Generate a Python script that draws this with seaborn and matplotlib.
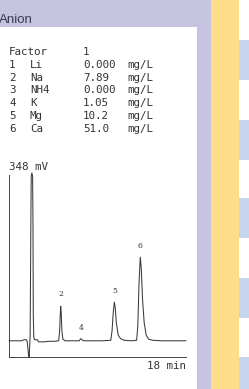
import matplotlib
matplotlib.use("Agg")
import matplotlib.pyplot as plt
from matplotlib.patches import Rectangle
import pandas as pd
import seaborn as sns

# ---- data ----
title = "Anion"
factor_label = "Factor"
factor_value = "1"
ion_numbers = ["1", "2", "3", "4", "5", "6"]
ion_names = ["Li", "Na", "NH4", "K", "Mg", "Ca"]
ion_conc = ["0.000", "7.89", "0.000", "1.05", "10.2", "51.0"]
unit = "mg/L"

y_max_mv = 348
x_max_min = 18

# chromatogram trace (min, mV)
trace_time = [0.0, 0.8, 1.3, 1.5, 1.75, 1.85, 1.98, 2.05, 2.15, 2.22, 2.26, 2.33,
              2.40, 2.44, 2.47, 2.52, 2.60, 2.90, 3.00, 3.60, 4.00, 4.60, 5.05,
              5.15, 5.22, 5.26, 5.31, 5.38, 5.48, 5.70, 6.50, 7.15, 7.25, 7.32,
              7.42, 7.60, 8.50, 9.50, 10.35, 10.48, 10.60, 10.71, 10.80, 10.92,
              11.10, 11.35, 11.70, 12.50, 12.98, 13.10, 13.22, 13.35, 13.45,
              13.58, 13.75, 13.95, 14.20, 14.60, 15.50, 18.0]
trace_mv = [31, 31, 31, 33, 33, 30, 5, 0, 40, 250, 345, 352,
            345, 250, 80, 38, 33, 33, 29, 29, 30, 30, 31,
            50, 85, 97, 85, 50, 34, 31, 31, 31, 34, 35,
            33, 31, 31, 31, 32, 50, 85, 105, 95, 65,
            42, 35, 32, 31, 32, 60, 140, 191, 170,
            110, 65, 42, 34, 32, 31, 31]

peak_ids = ["2", "4", "5", "6"]
peak_times = [5.26, 7.32, 10.71, 13.35]
peak_label_mv = [120, 55, 127, 213]

tick_times = [6, 12]

# ---- colours ----
lavender = "#c6c3e1"
yellow = "#fcdd8c"
blue = "#c6d6ee"
ink = "#333333"

sns.set_style("white")
plt.rcParams["font.family"] = ["DejaVu Sans Mono", "DejaVu Sans"]

W, H = 249, 389
fig = plt.figure(figsize=(W / 100, H / 100), dpi=100)

# background in pixel coordinates
bg = fig.add_axes([0, 0, 1, 1])
bg.set_xlim(0, W)
bg.set_ylim(H, 0)
bg.axis("off")
bg.add_patch(Rectangle((0, 0), 211, H, color=lavender, lw=0))
bg.add_patch(Rectangle((0, 27), 197, H - 27, color="white", lw=0))
bg.add_patch(Rectangle((211, 0), 28, H, color=yellow, lw=0))
bg.add_patch(Rectangle((239, 0), 10, H, color="white", lw=0))
for top in [40, 120, 198, 278, 357]:
    bg.add_patch(Rectangle((239, top), 10, 40, color=blue, lw=0))

bg.text(-1.5, 23.3, title, fontsize=9.5, family="Liberation Sans",
        color="#3b3950", ha="left", va="baseline")

# result table
fs = 7.8
bg.text(9, 55, factor_label, fontsize=fs, color=ink, va="baseline")
bg.text(83, 55, factor_value, fontsize=fs, color=ink, va="baseline")
for i, (num, name, conc) in enumerate(zip(ion_numbers, ion_names, ion_conc)):
    yb = 55 + 12.75 * (i + 1)
    bg.text(9, yb, num, fontsize=fs, color=ink, va="baseline")
    bg.text(30, yb, name, fontsize=fs, color=ink, va="baseline")
    bg.text(83, yb, conc, fontsize=fs, color=ink, va="baseline")
    bg.text(127, yb, unit, fontsize=fs, color=ink, va="baseline")

bg.text(9, 170, f"{y_max_mv} mV", fontsize=fs, color=ink, va="baseline")
bg.text(186, 369, f"{x_max_min} min", fontsize=fs, color=ink, ha="right", va="baseline")

# chromatogram
ax = fig.add_axes([9 / W, (H - 357) / H, 177 / W, 182 / H])
ax.patch.set_alpha(0)
df = pd.DataFrame({"time": trace_time, "mV": trace_mv})
sns.lineplot(data=df, x="time", y="mV", ax=ax, color="#3a3a3a", lw=0.75,
             sort=False, clip_on=False)
for pid, pt, pm in zip(peak_ids, peak_times, peak_label_mv):
    ax.text(pt, pm, pid, fontsize=5.5, family="DejaVu Serif", color=ink,
            ha="center", va="center")
ax.set_xlim(0, x_max_min)
ax.set_ylim(0, y_max_mv)
ax.set_xticks(tick_times)
ax.set_xticklabels([])
ax.set_yticks([])
ax.set_xlabel("")
ax.set_ylabel("")
ax.tick_params(axis="x", direction="inout", length=2.5, width=0.6, color="#444444")
for side in ["top", "right"]:
    ax.spines[side].set_visible(False)
for side in ["left", "bottom"]:
    ax.spines[side].set_linewidth(0.7)
    ax.spines[side].set_color("#444444")

fig.savefig("out.png", dpi=100)
